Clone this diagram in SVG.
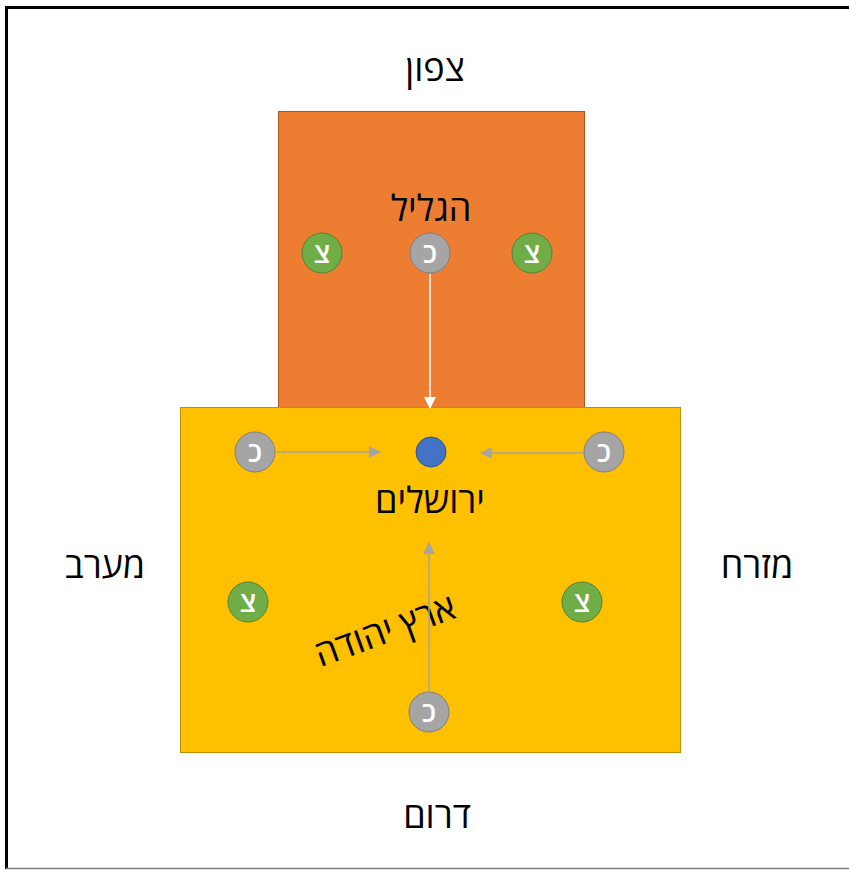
<svg xmlns="http://www.w3.org/2000/svg" width="849" height="870" viewBox="0 0 849 870">
<defs>
<style>
.t{font-family:"Open Sans","DejaVu Sans","Liberation Sans",sans-serif;fill:#000;text-anchor:middle;direction:rtl}
.lbl{font-size:36px}
.c{font-family:"Open Sans","DejaVu Sans","Liberation Sans",sans-serif;fill:#fff;font-size:28px;font-weight:600;text-anchor:middle}
.g{fill:#70ad47;stroke:#548235;stroke-width:1}
.y{fill:#a5a5a5;stroke:#7f7f7f;stroke-width:1}
</style>
<marker id="aw" markerWidth="12" markerHeight="12" refX="11" refY="6" orient="auto" markerUnits="userSpaceOnUse"><path d="M0,0 L12,6 L0,12 z" fill="#fff"/></marker>
<marker id="ag" markerWidth="12" markerHeight="12" refX="11" refY="6" orient="auto" markerUnits="userSpaceOnUse"><path d="M0,0 L12,6 L0,12 z" fill="#a5a5a5"/></marker>
</defs>
<rect x="0" y="0" width="849" height="870" fill="#fff"/>
<path d="M6.5,869 L6.5,7.5 L849,7.5" fill="none" stroke="#000" stroke-width="3"/>
<line x1="6" y1="868.5" x2="849" y2="868.5" stroke="#808080" stroke-width="1.5"/>
<g id="galil"><rect x="278.5" y="111.5" width="306" height="297" fill="#ed7d31" stroke="#ae5a21" stroke-width="1"/><text class="t lbl" x="431" y="221">הגליל</text></g>
<g id="yehuda"><rect x="180.5" y="407.5" width="500" height="345" fill="#ffc000" stroke="#bf9000" stroke-width="1"/><text class="t lbl" x="385" y="643" transform="rotate(-20 385 630)">ארץ יהודה</text></g>
<g id="yerushalayim"><circle cx="431" cy="452" r="15" fill="#4472c4" stroke="#2f528f" stroke-width="1"/><text class="t lbl" x="430" y="513">ירושלים</text></g>
<g id="labels"><text class="t lbl" x="435" y="81">צפון</text><text class="t lbl" x="105" y="578">מערב</text><text class="t lbl" x="757" y="578">מזרח</text><text class="t lbl" x="437" y="828">דרום</text></g>
<g id="connectors">
<line x1="430" y1="274" x2="430" y2="408" stroke="#fff" stroke-width="1.5" marker-end="url(#aw)"/>
<line x1="277" y1="452" x2="380" y2="452" stroke="#a5a5a5" stroke-width="1.5" marker-end="url(#ag)"/>
<line x1="583" y1="453" x2="481" y2="453" stroke="#a5a5a5" stroke-width="1.5" marker-end="url(#ag)"/>
<line x1="429" y1="691" x2="429" y2="543" stroke="#a5a5a5" stroke-width="1.5" marker-end="url(#ag)"/>
</g>
<g id="tz1"><circle class="g" cx="322" cy="253" r="20"/><text class="c" x="322" y="263">צ</text></g>
<g id="k1"><circle class="y" cx="430" cy="253" r="20"/><text class="c" x="430" y="263">כ</text></g>
<g id="tz2"><circle class="g" cx="532" cy="253" r="20"/><text class="c" x="532" y="263">צ</text></g>
<g id="k2"><circle class="y" cx="255" cy="452" r="20"/><text class="c" x="255" y="462">כ</text></g>
<g id="k3"><circle class="y" cx="604" cy="452" r="20"/><text class="c" x="604" y="462">כ</text></g>
<g id="tz3"><circle class="g" cx="248" cy="602" r="20"/><text class="c" x="248" y="612">צ</text></g>
<g id="tz4"><circle class="g" cx="582" cy="602" r="20"/><text class="c" x="582" y="612">צ</text></g>
<g id="k4"><circle class="y" cx="429" cy="712" r="20"/><text class="c" x="429" y="722">כ</text></g>
</svg>
